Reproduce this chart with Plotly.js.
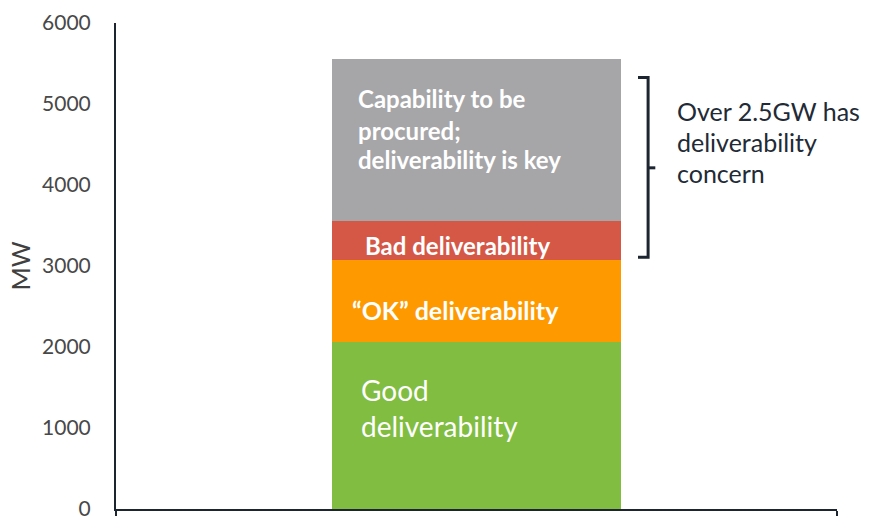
<!DOCTYPE html>
<html>
<head>
<meta charset="utf-8">
<script src="https://cdn.plot.ly/plotly-3.0.1.min.js"></script>
<style>html,body{margin:0;padding:0;background:#fff;}#chart{width:870px;height:516px;}</style>
</head>
<body>
<div id="chart"></div>
<script>
// Data
var categories = [''];
var segmentNames = ['Good deliverability', '"OK" deliverability', 'Bad deliverability', 'Capability to be procured'];
var goodValues = [2060];
var okValues = [1020];
var badValues = [480];
var procureValues = [1990];
var segmentColors = ['#80bd41', '#fe9900', '#d55746', '#a6a6a9'];
var yTickValues = [0, 1000, 2000, 3000, 4000, 5000, 6000];

var seriesValues = [goodValues, okValues, badValues, procureValues];
var traces = seriesValues.map(function (vals, i) {
  return {
    type: 'bar',
    x: categories,
    y: vals,
    name: segmentNames[i],
    marker: { color: segmentColors[i], line: { width: 0 } },
    hoverinfo: 'skip'
  };
});

var ink = '#1c2530';
var F = 'Lato, "Open Sans", sans-serif';
function line(x, y, text, size, anchor, ref, color) {
  return { xref: ref || 'x', yref: 'y', x: x, y: y, xanchor: anchor || 'left', yanchor: 'middle',
    text: text, showarrow: false, font: { size: size, color: color || '#ffffff', family: F } };
}

var layout = {
  width: 870, height: 516,
  margin: { l: 116, r: 33, t: 23, b: 7, pad: 0 },
  paper_bgcolor: '#ffffff', plot_bgcolor: '#ffffff',
  barmode: 'stack', bargap: 0.6,
  showlegend: false,
  font: { family: F, color: '#404040' },
  xaxis: {
    type: 'category', range: [-0.5, 0.5],
    showline: true, linecolor: ink, linewidth: 2,
    ticks: 'outside', tickson: 'boundaries', ticklen: 7, tickwidth: 2, tickcolor: ink,
    showticklabels: false, showgrid: false, zeroline: false, fixedrange: true
  },
  yaxis: {
    range: [0, 6000], tickvals: yTickValues,
    showline: true, linecolor: ink, linewidth: 2,
    showgrid: false, zeroline: false, ticks: '',
    ticklabelstandoff: 19, ticklabeloverflow: 'allow',
    tickfont: { size: 21, color: '#484848', family: F },
    title: { text: 'MW', font: { size: 25, color: '#404040', family: F }, standoff: 4 },
    fixedrange: true
  },
  annotations: [
    line(-0.163, 1469, 'Good', 28),
    line(-0.163, 1025, 'deliverability', 28),
    line(-0.175, 2457, '<b>\u201COK\u201D deliverability</b>', 25),
    line(-0.158, 3247, '<b>Bad deliverability</b>', 24),
    line(-0.167, 5062, '<b>Capability to be</b>', 24),
    line(-0.167, 4679, '<b>procured;</b>', 24),
    line(-0.167, 4309, '<b>deliverability is key</b>', 24),
    line(0.775, 4914, 'Over 2.5GW has', 25, 'left', 'paper', '#222a35'),
    line(0.775, 4531, 'deliverability', 25, 'left', 'paper', '#222a35'),
    line(0.775, 4148, 'concern', 25, 'left', 'paper', '#222a35')
  ],
  shapes: [
    { type: 'path', xref: 'paper', yref: 'paper',
      path: 'M 0.724 0.888 L 0.738 0.888 L 0.738 0.518 L 0.724 0.518',
      line: { color: ink, width: 3 } },
    { type: 'line', xref: 'paper', yref: 'paper', x0: 0.738, x1: 0.748, y0: 0.702, y1: 0.702,
      line: { color: ink, width: 3 } }
  ]
};

Plotly.newPlot('chart', traces, layout, { displayModeBar: false, staticPlot: true });
</script>
</body>
</html>
